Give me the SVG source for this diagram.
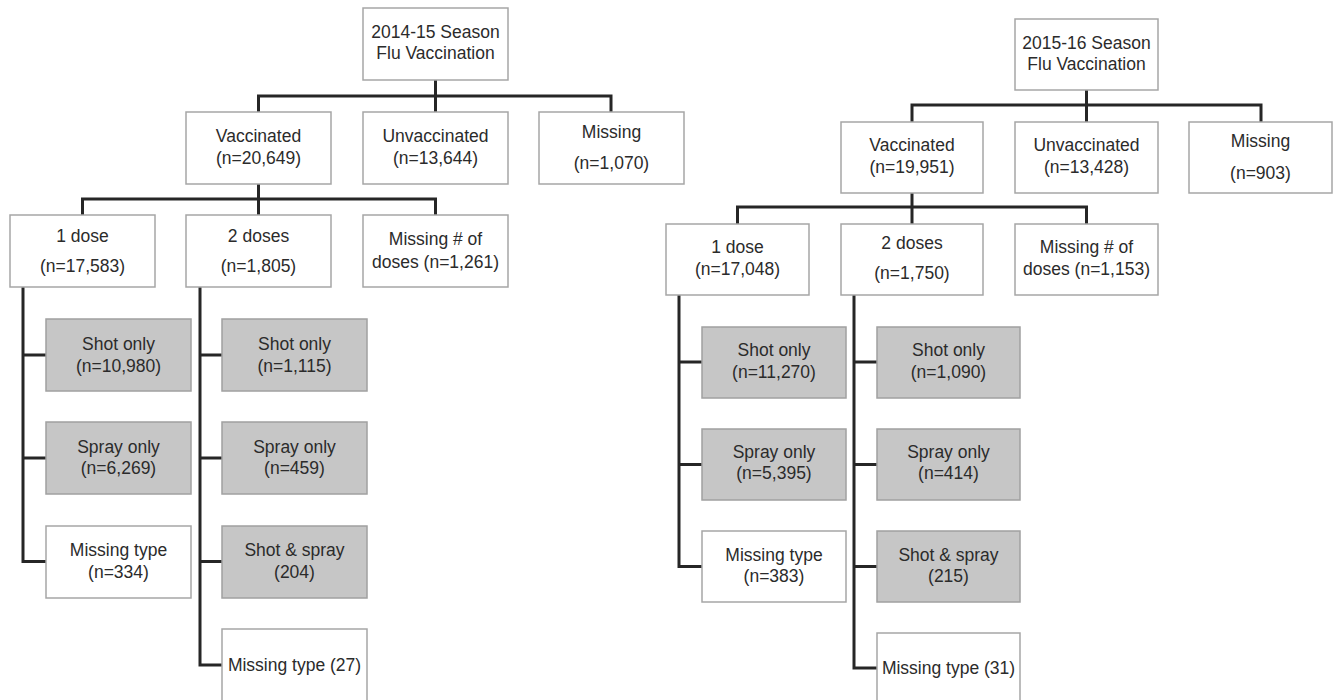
<svg xmlns="http://www.w3.org/2000/svg" width="1340" height="700" viewBox="0 0 1340 700">
<style>
.b{fill:#ffffff;stroke:#a6a6a6;stroke-width:1.5}
.g{fill:#c6c6c6;stroke:#a0a0a0;stroke-width:1.5}
text{font-family:"Liberation Sans",Arial,sans-serif;font-size:17.5px;fill:#2b2b2b;text-anchor:middle}
.c{fill:none;stroke:#262626;stroke-width:3;stroke-linejoin:miter;stroke-linecap:butt}
</style>
<rect width="1340" height="700" fill="#ffffff"/>
<g id="connectors">
<path class="c" d="M435.5,80 V96 M258.5,112 V96 H611 V112 M435.5,96 V112"/>
<path class="c" d="M258.5,184 V199 M82.5,215 V199 H435.5 V215 M258.5,199 V215"/>
<path class="c" d="M23,287 V561.5 H46 M23,355 H46 M23,458 H46"/>
<path class="c" d="M200,287 V665 H222 M200,355 H222 M200,458 H222 M200,561.5 H222"/>
<path class="c" d="M1086.5,90 V105 M912,122 V105 H1261 V122 M1086.5,105 V122"/>
<path class="c" d="M912,193 V207 M737.5,224 V207 H1086.5 V224 M912,207 V224"/>
<path class="c" d="M679,295 V566.5 H702 M679,362 H702 M679,464.5 H702"/>
<path class="c" d="M854,295 V668 H877 M854,362 H877 M854,464.5 H877 M854,566.5 H877"/>
</g>
<g id="l-root"><rect class="b" x="363" y="8" width="145" height="72"/><text x="435.5" y="38">2014-15 Season</text><text x="435.5" y="59">Flu Vaccination</text></g>
<g id="l-vacc"><rect class="b" x="186" y="112" width="145" height="72"/><text x="258.5" y="142">Vaccinated</text><text x="258.5" y="164">(n=20,649)</text></g>
<g id="l-unvacc"><rect class="b" x="363" y="112" width="145" height="72"/><text x="435.5" y="142">Unvaccinated</text><text x="435.5" y="164">(n=13,644)</text></g>
<g id="l-missing"><rect class="b" x="539" y="112" width="145" height="72"/><text x="611.5" y="138">Missing</text><text x="611.5" y="169">(n=1,070)</text></g>
<g id="l-1dose"><rect class="b" x="10" y="215" width="145" height="72"/><text x="82.5" y="242">1 dose</text><text x="82.5" y="272">(n=17,583)</text></g>
<g id="l-2doses"><rect class="b" x="186" y="215" width="145" height="72"/><text x="258.5" y="242">2 doses</text><text x="258.5" y="272">(n=1,805)</text></g>
<g id="l-missdoses"><rect class="b" x="363" y="215" width="145" height="72"/><text x="435.5" y="245">Missing # of</text><text x="435.5" y="268">doses (n=1,261)</text></g>
<g id="l-1-shot"><rect class="g" x="46" y="319" width="145" height="72"/><text x="118.5" y="350">Shot only</text><text x="118.5" y="372">(n=10,980)</text></g>
<g id="l-1-spray"><rect class="g" x="46" y="422" width="145" height="72"/><text x="118.5" y="453">Spray only</text><text x="118.5" y="474">(n=6,269)</text></g>
<g id="l-1-miss"><rect class="b" x="46" y="526" width="145" height="72"/><text x="118.5" y="556">Missing type</text><text x="118.5" y="578">(n=334)</text></g>
<g id="l-2-shot"><rect class="g" x="222" y="319" width="145" height="72"/><text x="294.5" y="350">Shot only</text><text x="294.5" y="372">(n=1,115)</text></g>
<g id="l-2-spray"><rect class="g" x="222" y="422" width="145" height="72"/><text x="294.5" y="453">Spray only</text><text x="294.5" y="474">(n=459)</text></g>
<g id="l-2-both"><rect class="g" x="222" y="526" width="145" height="72"/><text x="294.5" y="556">Shot &amp; spray</text><text x="294.5" y="578">(204)</text></g>
<g id="l-2-miss"><rect class="b" x="222" y="629" width="145" height="72"/><text x="294.5" y="671">Missing type (27)</text></g>
<g id="r-root"><rect class="b" x="1015" y="19" width="143" height="71"/><text x="1086.5" y="49">2015-16 Season</text><text x="1086.5" y="70">Flu Vaccination</text></g>
<g id="r-vacc"><rect class="b" x="841" y="122" width="142" height="71"/><text x="912" y="151">Vaccinated</text><text x="912" y="173">(n=19,951)</text></g>
<g id="r-unvacc"><rect class="b" x="1015" y="122" width="143" height="71"/><text x="1086.5" y="151">Unvaccinated</text><text x="1086.5" y="173">(n=13,428)</text></g>
<g id="r-missing"><rect class="b" x="1189" y="122" width="143" height="71"/><text x="1260.5" y="147">Missing</text><text x="1260.5" y="179">(n=903)</text></g>
<g id="r-1dose"><rect class="b" x="666" y="224" width="143" height="71"/><text x="737.5" y="253">1 dose</text><text x="737.5" y="275">(n=17,048)</text></g>
<g id="r-2doses"><rect class="b" x="841" y="224" width="142" height="71"/><text x="912" y="249">2 doses</text><text x="912" y="279">(n=1,750)</text></g>
<g id="r-missdoses"><rect class="b" x="1015" y="224" width="143" height="71"/><text x="1086.5" y="253">Missing # of</text><text x="1086.5" y="275">doses (n=1,153)</text></g>
<g id="r-1-shot"><rect class="g" x="702" y="327" width="144" height="71"/><text x="774" y="356">Shot only</text><text x="774" y="378">(n=11,270)</text></g>
<g id="r-1-spray"><rect class="g" x="702" y="429" width="144" height="71"/><text x="774" y="458">Spray only</text><text x="774" y="479">(n=5,395)</text></g>
<g id="r-1-miss"><rect class="b" x="702" y="531" width="144" height="71"/><text x="774" y="561">Missing type</text><text x="774" y="582">(n=383)</text></g>
<g id="r-2-shot"><rect class="g" x="877" y="327" width="143" height="71"/><text x="948.5" y="356">Shot only</text><text x="948.5" y="378">(n=1,090)</text></g>
<g id="r-2-spray"><rect class="g" x="877" y="429" width="143" height="71"/><text x="948.5" y="458">Spray only</text><text x="948.5" y="479">(n=414)</text></g>
<g id="r-2-both"><rect class="g" x="877" y="531" width="143" height="71"/><text x="948.5" y="561">Shot &amp; spray</text><text x="948.5" y="582">(215)</text></g>
<g id="r-2-miss"><rect class="b" x="877" y="633" width="143" height="71"/><text x="948.5" y="674">Missing type (31)</text></g>
</svg>
